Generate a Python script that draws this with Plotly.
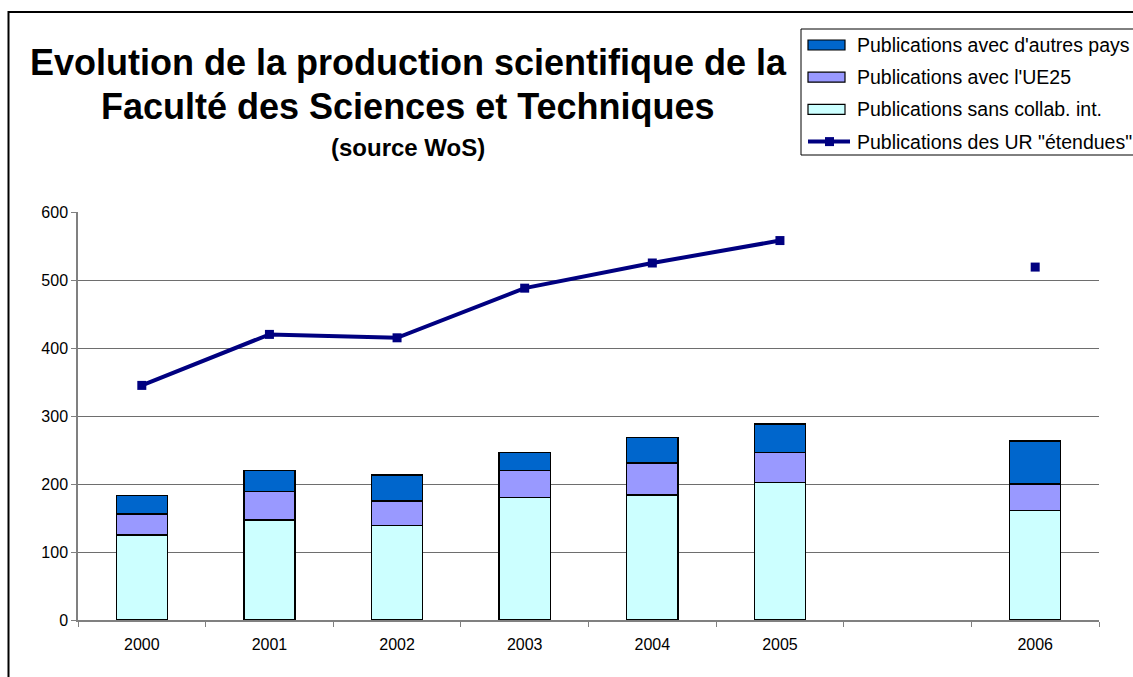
import plotly.graph_objects as go

# données
annees = ["2000", "2001", "2002", "2003", "2004", "2005", " ", "2006"]
sans_collab = [125, 147, 139, 180, 184, 202, None, 161]
avec_ue25 = [31, 42, 36, 40, 47, 44, None, 39]
autres_pays = [27, 31, 38, 26, 37, 42, None, 63]
ur_etendues = [345, 420, 415, 488, 525, 558, None, 519]
graduations_y = [0, 100, 200, 300, 400, 500, 600]

noms = ["Publications avec d'autres pays", "Publications avec l'UE25",
        "Publications sans collab. int.", 'Publications des UR "étendues"']
couleurs = ["#0066CC", "#9999FF", "#CCFFFF", "#000080"]

police = "Liberation Sans, Arial, sans-serif"

# zone de tracé en pixels
W, H = 1133, 677
L, R, T, B = 78, 1099, 212, 620


def px(x):
    return (x - L) / (R - L)


def py(y):
    return (B - y) / (B - T)


fig = go.Figure()

for valeurs, nom, couleur in [(sans_collab, noms[2], couleurs[2]),
                              (avec_ue25, noms[1], couleurs[1]),
                              (autres_pays, noms[0], couleurs[0])]:
    fig.add_trace(go.Bar(
        x=annees, y=valeurs, name=nom,
        marker=dict(color=couleur, line=dict(color="black", width=1.4)),
        showlegend=False,
    ))

fig.add_trace(go.Scatter(
    x=annees, y=ur_etendues, name=noms[3],
    mode="lines+markers", connectgaps=False,
    line=dict(color=couleurs[3], width=4),
    marker=dict(symbol="square", size=9, color=couleurs[3]),
    showlegend=False,
))

# cadre du graphique (coupé à droite et en bas comme l'original)
shapes = [dict(type="rect", xref="paper", yref="paper",
               x0=px(8.5), x1=px(1145), y0=py(12), y1=py(690),
               line=dict(color="black", width=2), layer="above")]
annotations = []

# légende dessinée à la main
shapes.append(dict(type="rect", xref="paper", yref="paper",
                   x0=px(801), x1=px(1145), y0=py(29), y1=py(155),
                   line=dict(color="black", width=1), fillcolor="white"))
for i, (nom, couleur) in enumerate(zip(noms, couleurs)):
    yc = 45 + 32.2 * i
    if i < 3:
        shapes.append(dict(type="rect", xref="paper", yref="paper",
                           x0=px(808), x1=px(845), y0=py(yc - 5), y1=py(yc + 5),
                           fillcolor=couleur, line=dict(color="black", width=1.2)))
    else:
        shapes.append(dict(type="line", xref="paper", yref="paper",
                           x0=px(808), x1=px(850), y0=py(yc), y1=py(yc),
                           line=dict(color=couleur, width=4)))
        shapes.append(dict(type="rect", xref="paper", yref="paper",
                           x0=px(825), x1=px(834), y0=py(yc - 4.5), y1=py(yc + 4.5),
                           fillcolor=couleur, line=dict(color=couleur, width=0)))
    annotations.append(dict(x=px(855), y=py(yc), xref="paper", yref="paper",
                            text=nom, showarrow=False, xanchor="left", yanchor="middle",
                            font=dict(family=police, size=19.5, color="black")))

# titre
for texte, yc, taille in [("Evolution de la production scientifique de la", 62, 36),
                          ("Faculté des Sciences et Techniques", 106, 36),
                          ("(source WoS)", 148, 24)]:
    annotations.append(dict(x=px(408), y=py(yc), xref="paper", yref="paper",
                            text="<b>%s</b>" % texte, showarrow=False,
                            xanchor="center", yanchor="middle",
                            font=dict(family=police, size=taille, color="black")))

fig.update_layout(
    width=W, height=H,
    margin=dict(l=L, r=W - R, t=T, b=H - B, pad=0),
    paper_bgcolor="white", plot_bgcolor="white",
    barmode="stack", bargap=0.6,
    font=dict(family=police, size=16, color="black"),
    shapes=shapes, annotations=annotations,
    xaxis=dict(type="category", categoryorder="array", categoryarray=annees,
               tickvals=annees, ticktext=[a.strip() for a in annees],
               showline=True, linecolor="#808080", linewidth=1.5,
               ticks="outside", tickson="boundaries", ticklen=5, tickcolor="#808080",
               ticklabelstandoff=9,
               showgrid=False, tickfont=dict(size=16)),
    yaxis=dict(range=[0, 600], tickvals=graduations_y,
               showline=True, linecolor="#808080", linewidth=1.5,
               ticks="outside", ticklen=5, tickcolor="#808080",
               showgrid=True, gridcolor="#6e6e6e", gridwidth=1,
               zeroline=False, tickfont=dict(size=16)),
)

fig.write_html("out.html", config={"displayModeBar": False},
               post_script="document.body.style.margin='0';")
